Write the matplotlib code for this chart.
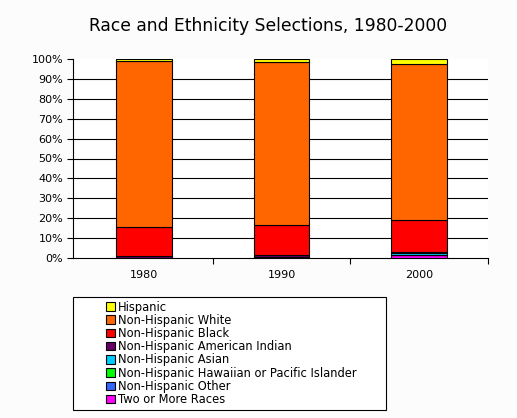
import matplotlib
matplotlib.use("Agg")
import matplotlib.pyplot as plt
from matplotlib.patches import Rectangle
import numpy as np

years = ["1980", "1990", "2000"]
series = [
    "Hispanic",
    "Non-Hispanic White",
    "Non-Hispanic Black",
    "Non-Hispanic American Indian",
    "Non-Hispanic Asian",
    "Non-Hispanic Hawaiian or Pacific Islander",
    "Non-Hispanic Other",
    "Two or More Races",
]
hispanic = [1.2, 1.6, 2.7]
nh_white = [83.4, 82.0, 78.4]
nh_black = [14.6, 15.1, 15.9]
nh_amind = [0.6, 0.6, 0.6]
nh_asian = [0.2, 0.7, 0.8]
nh_hawaii = [0.0, 0.0, 0.1]
nh_other = [0.0, 0.0, 0.1]
two_more = [0.0, 0.0, 1.4]
colors = ["#FFFF00", "#FF6600", "#FF0000", "#660066",
          "#00CCFF", "#00FF00", "#3366FF", "#FF00FF"]
yticks = [0, 10, 20, 30, 40, 50, 60, 70, 80, 90, 100]

plt.rcParams["font.family"] = ["DejaVu Sans"]
fig = plt.figure(figsize=(5.17, 4.18), dpi=100, facecolor="#fcfcfc")
ax = fig.add_axes([73/517, 1-258/418, 415/517, 199/418])
ax.set_facecolor("white")

values = [hispanic, nh_white, nh_black, nh_amind, nh_asian, nh_hawaii, nh_other, two_more]
x = np.arange(len(years))
bottom = np.zeros(len(years))
bars = {}
for name, vals, col in reversed(list(zip(series, values, colors))):
    bars[name] = ax.bar(x, vals, width=0.405, bottom=bottom, color=col,
                        edgecolor="black", linewidth=0.8, label=name, zorder=3)
    bottom = bottom + np.array(vals)

ax.set_xlim(-0.516, 2.5)
ax.set_ylim(0, 100)
for t in yticks[1:-1]:
    ax.axhline(t, color="black", linewidth=0.8, zorder=1)
ax.set_yticks(yticks)
ax.set_yticklabels([f"{t}%" for t in yticks], fontsize=8)
ax.tick_params(axis="y", length=4, width=0.8, pad=3)
ax.set_xticks(x)
ax.set_xticklabels(years, fontsize=8)
ax.tick_params(axis="x", which="major", length=0, pad=9)
ax.set_xticks([0.5, 1.5, 2.5], minor=True)
ax.tick_params(axis="x", which="minor", length=4, width=0.8, direction="out")
for s in ["top", "right"]:
    ax.spines[s].set_visible(False)
for s in ["left", "bottom"]:
    ax.spines[s].set_linewidth(0.8)

fig.text(268/517, 1-26/418, "Race and Ethnicity Selections, 1980-2000",
         ha="center", va="center", fontsize=12.3)

fig.patches.append(Rectangle((73/517, 1-410/418), 313/517, 113/418,
                             transform=fig.transFigure, facecolor="white",
                             edgecolor="black", linewidth=0.8))
handles = [bars[n] for n in series]
leg = fig.legend(handles, series, loc="upper left",
                 bbox_to_anchor=(106/517, 1-300.5/418), frameon=False,
                 fontsize=8.3, handlelength=0.75, handleheight=0.75,
                 handletextpad=0.25, labelspacing=0.02, borderpad=0,
                 borderaxespad=0)

fig.savefig("out.png", dpi=100, facecolor=fig.get_facecolor())
